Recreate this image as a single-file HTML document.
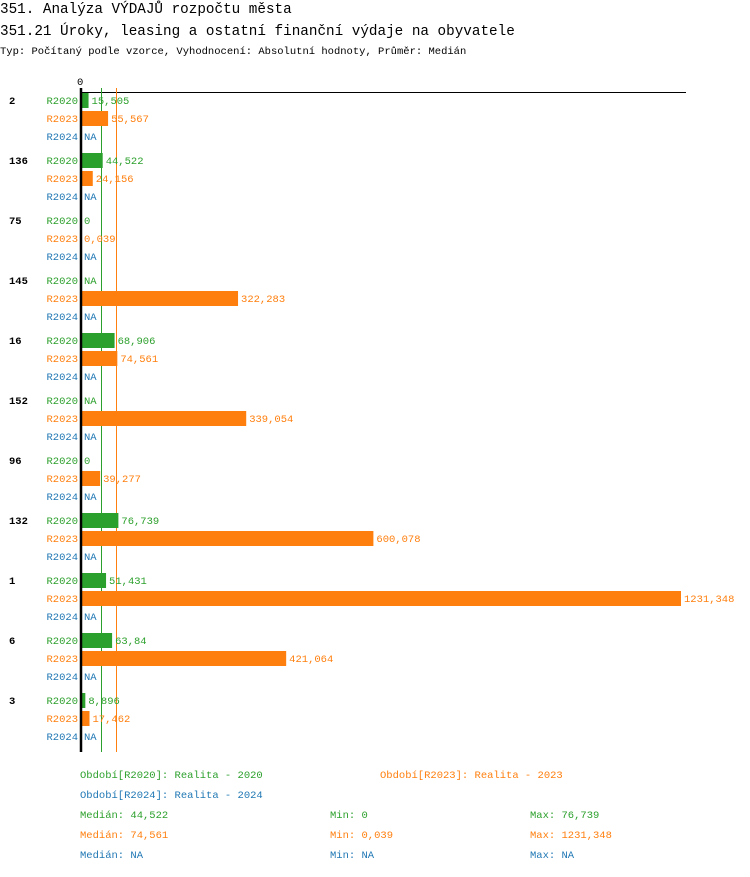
<!DOCTYPE html>
<html><head><meta charset="utf-8"><style>
body{margin:0;background:#fff;width:750px;height:872px;overflow:hidden}
svg text{font-family:"Liberation Mono","DejaVu Sans Mono",monospace}
</style></head><body>
<svg id="s" width="750" height="872" xmlns="http://www.w3.org/2000/svg">
<text x="0" y="13" font-size="14.3">351. Analýza VÝDAJŮ rozpočtu města</text>
<text x="0" y="35" font-size="14.3">351.21 Úroky, leasing a ostatní finanční výdaje na obyvatele</text>
<text x="0" y="54" font-size="10.5">Typ: Počítaný podle vzorce, Vyhodnocení: Absolutní hodnoty, Průměr: Medián</text>
<text x="77" y="85" font-size="10.5">0</text>
<line x1="80" y1="92.5" x2="686" y2="92.5" stroke="#000" stroke-width="1"/>
<line x1="101.5" y1="88" x2="101.5" y2="752" stroke="#2ca02c" stroke-width="1"/>
<line x1="116.5" y1="88" x2="116.5" y2="752" stroke="#ff7f0e" stroke-width="1"/>
<g id="g"></g>
<line x1="81" y1="88" x2="81" y2="752" stroke="#000" stroke-width="2.5"/>
<g font-size="10.5">
<text x="80" y="778" fill="#2ca02c">Období[R2020]: Realita - 2020</text>
<text x="380" y="778" fill="#ff7f0e">Období[R2023]: Realita - 2023</text>
<text x="80" y="798" fill="#1f77b4">Období[R2024]: Realita - 2024</text>
<text x="80" y="818" fill="#2ca02c">Medián: 44,522</text>
<text x="330" y="818" fill="#2ca02c">Min: 0</text>
<text x="530" y="818" fill="#2ca02c">Max: 76,739</text>
<text x="80" y="838" fill="#ff7f0e">Medián: 74,561</text>
<text x="330" y="838" fill="#ff7f0e">Min: 0,039</text>
<text x="530" y="838" fill="#ff7f0e">Max: 1231,348</text>
<text x="80" y="858" fill="#1f77b4">Medián: NA</text>
<text x="330" y="858" fill="#1f77b4">Min: NA</text>
<text x="530" y="858" fill="#1f77b4">Max: NA</text>
</g>
</svg>
<script>
var d=[["2",15.505,55.567],["136",44.522,24.156],["75",0,0.039],["145",null,322.283],["16",68.906,74.561],["152",null,339.054],["96",0,39.277],["132",76.739,600.078],["1",51.431,1231.348],["6",63.84,421.064],["3",8.896,17.462]];
var cols=["#2ca02c","#ff7f0e","#1f77b4"],names=["R2020","R2023","R2024"];
var k=(681-81)/1231.348,h="";
function f(v){return String(v).replace(".",",");}
d.forEach(function(r,i){
 var y0=100+i*60;
 h+='<text x="9" y="'+(y0+4)+'" font-size="10.5" font-weight="bold">'+r[0]+'</text>';
 for(var j=0;j<3;j++){
  var y=y0+j*18,v=j<2?r[j+1]:null;
  h+='<text x="78" y="'+(y+4)+'" font-size="10.5" text-anchor="end" fill="'+cols[j]+'">'+names[j]+'</text>';
  if(v===null){h+='<text x="84" y="'+(y+4)+'" font-size="10.5" fill="'+cols[j]+'">NA</text>';}
  else{var w=v*k;h+='<rect x="81" y="'+(y-7)+'" width="'+w+'" height="15" fill="'+cols[j]+'"/>';
   h+='<text x="'+(81+w+3)+'" y="'+(y+4)+'" font-size="10.5" fill="'+cols[j]+'">'+f(v)+'</text>';}
 }
});
document.getElementById("g").innerHTML=h;
</script>
</body></html>
